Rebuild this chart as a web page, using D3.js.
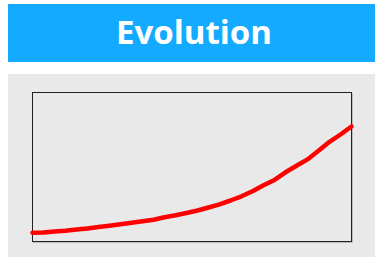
<!DOCTYPE html>
<html>
<head>
<meta charset="utf-8">
<script src="https://cdn.jsdelivr.net/npm/d3@7"></script>
<style>
  html, body { margin: 0; padding: 0; background: #fff; overflow: hidden; }
</style>
</head>
<body>
<div id="chart"></div>
<script>
// ─── Data ───────────────────────────────────────────────
const title = "Evolution";
const steps = d3.range(30);
const values = [8.7, 8.9, 10.1, 10.7, 11.9, 13.1, 14.4, 15.8, 17.2, 18.7,
  20.3, 21.8, 24.3, 26.2, 28.5, 31.0, 34.0, 37.2, 41.0, 45.2,
  50.3, 56.2, 61.6, 69.2, 75.7, 82.1, 90.7, 99.7, 107.0, 115.0];

// ─── Dimensions ─────────────────────────────────────────
const W = 375, H = 257;
const svg = d3.select("#chart").append("svg")
  .attr("width", W).attr("height", H);

// title banner
svg.append("rect")
  .attr("x", 8).attr("y", 4).attr("width", W - 8).attr("height", 58)
  .attr("fill", "#14aaff");
svg.append("text")
  .attr("x", 194).attr("y", 43.5)
  .attr("text-anchor", "middle")
  .attr("fill", "#fff")
  .style("font-family", "'Open Sans', sans-serif")
  .style("font-weight", "bold")
  .style("font-size", "33px")
  .text(title);

// panel
svg.append("rect")
  .attr("x", 8).attr("y", 74).attr("width", W - 8).attr("height", H - 74)
  .attr("fill", "#e9e9e9");

const box = { left: 32.5, top: 92.5, right: 351.5, bottom: 241.5 };

const x = d3.scaleLinear()
  .domain(d3.extent(steps))
  .range([box.left, box.right]);
const y = d3.scaleLinear()
  .domain([0, 149])
  .range([box.bottom, box.top]);

// shadow + frame
svg.append("rect")
  .attr("x", box.left + 1).attr("y", box.top + 1)
  .attr("width", box.right - box.left).attr("height", box.bottom - box.top)
  .attr("fill", "none").attr("stroke", "#bbb");
svg.append("rect")
  .attr("x", box.left).attr("y", box.top)
  .attr("width", box.right - box.left).attr("height", box.bottom - box.top)
  .attr("fill", "#e9e9e9").attr("stroke", "#222");

// line
const line = d3.line()
  .x((d, i) => x(steps[i]))
  .y(d => y(d));
svg.append("path")
  .datum(values)
  .attr("d", line)
  .attr("fill", "none")
  .attr("stroke", "#ff0000")
  .attr("stroke-width", 4.5)
  .attr("stroke-linejoin", "round")
  .attr("stroke-linecap", "round");
</script>
</body>
</html>
